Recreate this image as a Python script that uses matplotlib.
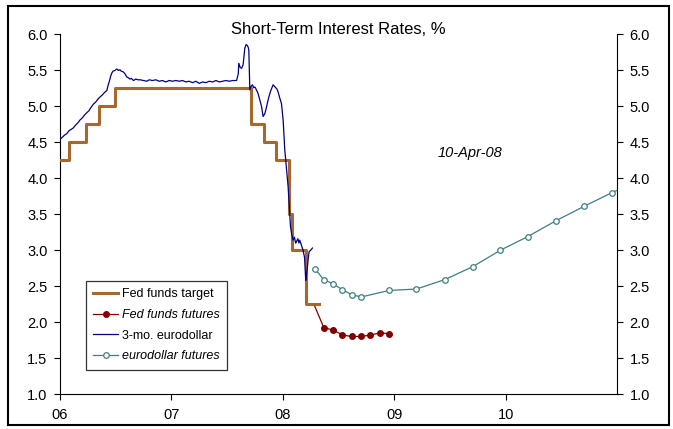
import numpy as np
import pandas as pd
import matplotlib
matplotlib.use("Agg")
import matplotlib.pyplot as plt
from matplotlib.patches import Rectangle

plt.rcParams['font.family'] = ['Liberation Sans', 'DejaVu Sans']

# --- data -------------------------------------------------------------
# Fed funds target: change dates and new rate
target_dates = ["2006-01-01", "2006-01-31", "2006-03-28", "2006-05-10", "2006-06-29",
                "2007-09-18", "2007-10-31", "2007-12-11", "2008-01-22", "2008-01-30",
                "2008-03-18", "2008-04-28"]
target_rates = [4.25, 4.50, 4.75, 5.00, 5.25, 4.75, 4.50, 4.25, 3.50, 3.00, 2.25, 2.25]

# Fed funds futures (monthly contracts, Apr-Dec 2008)
ff_months = ["2008-04-15", "2008-05-15", "2008-06-15", "2008-07-15", "2008-08-15",
             "2008-09-15", "2008-10-15", "2008-11-15", "2008-12-15"]
ff_rates = [2.22, 1.92, 1.89, 1.82, 1.80, 1.80, 1.82, 1.85, 1.84]

# eurodollar futures
ed_months = ["2008-04-15", "2008-05-15", "2008-06-15", "2008-07-15", "2008-08-15",
             "2008-09-15", "2008-12-15", "2009-03-15", "2009-06-15", "2009-09-15",
             "2009-12-15", "2010-03-15", "2010-06-15", "2010-09-15", "2010-12-15",
             "2011-03-15"]
ed_rates = [2.74, 2.59, 2.53, 2.45, 2.38, 2.35, 2.44, 2.46, 2.59, 2.77,
            3.00, 3.19, 3.41, 3.61, 3.80, 3.97]

# 3-month eurodollar (decimal year, rate)
libor_t = [2006.000, 2006.020, 2006.040, 2006.060, 2006.080, 2006.100, 2006.119, 2006.140,
           2006.160, 2006.179, 2006.200, 2006.220, 2006.239, 2006.260, 2006.280, 2006.299,
           2006.320, 2006.340, 2006.359, 2006.380, 2006.404, 2006.420, 2006.433, 2006.445,
           2006.455, 2006.464, 2006.475, 2006.493, 2006.510, 2006.525, 2006.538, 2006.550,
           2006.568, 2006.585, 2006.598, 2006.612, 2006.628, 2006.640, 2006.660, 2006.680,
           2006.700, 2006.720, 2006.750, 2006.780, 2006.800, 2006.830, 2006.860, 2006.890,
           2006.920, 2006.950, 2006.980, 2007.010, 2007.040, 2007.070, 2007.100, 2007.130,
           2007.160, 2007.190, 2007.220, 2007.250, 2007.280, 2007.310, 2007.340, 2007.370,
           2007.400, 2007.430, 2007.460, 2007.490, 2007.520, 2007.550, 2007.585, 2007.600,
           2007.605, 2007.618, 2007.630, 2007.644, 2007.652, 2007.659, 2007.670, 2007.680,
           2007.690, 2007.695, 2007.700, 2007.704, 2007.715, 2007.728, 2007.738, 2007.749,
           2007.760, 2007.778, 2007.795, 2007.809, 2007.823, 2007.839, 2007.852, 2007.868,
           2007.880, 2007.892, 2007.905, 2007.913, 2007.925, 2007.937, 2007.948, 2007.958,
           2007.972, 2007.988, 2008.003, 2008.018, 2008.035, 2008.048, 2008.063, 2008.069,
           2008.080, 2008.092, 2008.105, 2008.115, 2008.123, 2008.135, 2008.145, 2008.152,
           2008.165, 2008.182, 2008.195, 2008.206, 2008.212, 2008.218, 2008.228, 2008.236,
           2008.250, 2008.266]
libor_v = [4.54, 4.57, 4.60, 4.62, 4.66, 4.68, 4.70, 4.74, 4.77, 4.81, 4.84, 4.88,
           4.91, 4.94, 4.99, 5.03, 5.06, 5.10, 5.13, 5.16, 5.20, 5.22, 5.30, 5.36,
           5.42, 5.46, 5.49, 5.50, 5.52, 5.50, 5.51, 5.49, 5.48, 5.45, 5.41, 5.40,
           5.38, 5.39, 5.36, 5.38, 5.37, 5.37, 5.36, 5.35, 5.37, 5.36, 5.37, 5.35,
           5.36, 5.34, 5.36, 5.35, 5.36, 5.35, 5.36, 5.34, 5.35, 5.33, 5.35, 5.32,
           5.34, 5.33, 5.35, 5.34, 5.36, 5.34, 5.35, 5.36, 5.35, 5.36, 5.36, 5.45,
           5.60, 5.54, 5.53, 5.58, 5.70, 5.81, 5.86, 5.85, 5.82, 5.78, 5.50, 5.23,
           5.28, 5.30, 5.26, 5.27, 5.24, 5.18, 5.08, 5.00, 4.86, 4.90, 4.98, 5.09,
           5.16, 5.22, 5.27, 5.30, 5.28, 5.26, 5.24, 5.20, 5.12, 5.04, 4.81, 4.39,
           4.10, 3.88, 3.47, 3.33, 3.22, 3.14, 3.18, 3.10, 3.12, 3.16, 3.10, 3.14,
           3.08, 3.00, 2.90, 2.58, 2.66, 2.72, 2.88, 2.98, 3.00, 3.03]


def dec_year(dates):
    d = pd.to_datetime(dates)
    return (d.year + (d.dayofyear - 1) / np.where(d.is_leap_year, 366, 365)).to_numpy()


years = [2006, 2007, 2008, 2009, 2010]
year_labels = ["06", "07", "08", "09", "10"]

# --- figure -----------------------------------------------------------
fig = plt.figure(figsize=(6.73, 4.29), dpi=100)
ax = fig.add_axes([60 / 673, 35 / 429, 557 / 673, 359.5 / 429])

ax.plot(dec_year(target_dates), target_rates, drawstyle="steps-post",
        color="#A5692F", lw=2.2, label="Fed funds target", zorder=3)
ff_x = dec_year(ff_months)
ax.plot(ff_x, ff_rates, color="#800000", lw=0.9, marker="o", ms=4,
        markevery=list(range(1, len(ff_rates))), label="Fed funds futures", zorder=4)
ax.plot(libor_t, libor_v, color="#000080", lw=0.9, label="3-mo. eurodollar", zorder=5)
ax.plot(dec_year(ed_months), ed_rates, color="#3E7F7F", lw=0.9, marker="o", ms=4,
        mfc="white", mec="#3E7F7F", mew=0.9, label="eurodollar futures", zorder=4)

ax.set_xlim(2006, 2011)
ax.set_ylim(1.0, 6.0)
ax.set_yticks(np.arange(1.0, 6.01, 0.5))
ax.yaxis.set_major_formatter(plt.FormatStrFormatter("%.1f"))
ax.set_xticks(years)
ax.set_xticklabels(year_labels)
ax.tick_params(axis="both", direction="out", length=4, width=0.8, labelsize=10.5,
               colors="black")
ax.tick_params(axis="y", right=True, labelright=True, pad=5)
ax.tick_params(axis="x", pad=6)
ax.spines["top"].set_visible(False)
for s in ["left", "right", "bottom"]:
    ax.spines[s].set_linewidth(0.8)

fig.text(338 / 673, 1 - 30 / 429, "Short-Term Interest Rates, %", ha="center",
         va="center", fontsize=12)
ax.text(2009.68, 4.35, "10-Apr-08", fontsize=10.5, style="italic", ha="center",
        va="center")

leg = ax.legend(loc="lower left", bbox_to_anchor=(0.046, 0.067), borderaxespad=0,
                fontsize=9, frameon=True, fancybox=False, edgecolor="black",
                handlelength=2.0, handletextpad=0.3, labelspacing=0.7, borderpad=0.6)
leg.get_frame().set_linewidth(0.9)
for txt in leg.get_texts():
    if "futures" in txt.get_text():
        txt.set_fontstyle("italic")

fig.patches.append(Rectangle((8 / 673, 4 / 429), 661 / 673, 419 / 429,
                             transform=fig.transFigure, fill=False,
                             edgecolor="black", lw=1.5))

fig.savefig("out.png", dpi=100)
